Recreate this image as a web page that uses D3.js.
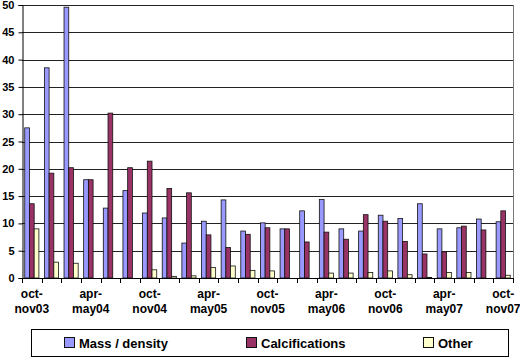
<!DOCTYPE html>
<html>
<head>
<meta charset="utf-8">
<script src="https://cdn.jsdelivr.net/npm/d3@7"></script>
<style>
  body { margin: 0; background: #fff; }
  text { font-family: "Liberation Sans", Arial, sans-serif; font-weight: bold; }
</style>
</head>
<body>
<svg id="chart" width="520" height="360"></svg>
<script>
// bimonthly periods, oct-nov03 .. oct-nov07
const periods = [
    'oct-nov03', 'dec-jan04', 'feb-mar04', 'apr-may04', 'jun-jul04', 'aug-sep04',
    'oct-nov04', 'dec-jan05', 'feb-mar05', 'apr-may05', 'jun-jul05', 'aug-sep05',
    'oct-nov05', 'dec-jan06', 'feb-mar06', 'apr-may06', 'jun-jul06', 'aug-sep06',
    'oct-nov06', 'dec-jan07', 'feb-mar07', 'apr-may07', 'jun-jul07', 'aug-sep07',
    'oct-nov07'
];
const tickLabels = [
    ['oct-', 'nov03'], ['apr-', 'may04'], ['oct-', 'nov04'], ['apr-', 'may05'], ['oct-', 'nov05'],
    ['apr-', 'may06'], ['oct-', 'nov06'], ['apr-', 'may07'], ['oct-', 'nov07']
];
const massDensity = [27.5, 38.5, 49.6, 18.0, 12.8, 16.0, 11.9, 11.0, 6.4, 10.4, 14.3, 8.6, 10.1,
    9.0, 12.3, 14.4, 9.0, 8.6, 11.5, 10.9, 13.6, 9.0, 9.2, 10.8, 10.3];
const calcifications = [13.6, 19.2, 20.2, 18.0, 30.2, 20.2, 21.4, 16.4, 15.6, 7.9, 5.6, 8.0, 9.2,
    9.0, 6.6, 8.4, 7.1, 11.6, 10.4, 6.7, 4.4, 4.8, 9.5, 8.8, 12.3];
const other = [9.0, 2.9, 2.7, 0, 0, 0, 1.5, 0.3, 0.4, 1.9, 2.2, 1.4, 1.3,
    0, 0, 0.9, 0.9, 1.0, 1.3, 0.6, 0.1, 1.0, 1.0, 0, 0.5];
const yTicks = [0, 5, 10, 15, 20, 25, 30, 35, 40, 45, 50];

const series = [
    { name: 'Mass / density', values: massDensity, color: '#9999ff' },
    { name: 'Calcifications', values: calcifications, color: '#993366' },
    { name: 'Other', values: other, color: '#ffffcc' }
];

const margin = { top: 5, right: 7, bottom: 82, left: 22 };
const width = 520, height = 360;
const svg = d3.select('#chart');

const x0 = d3.scaleBand().domain(periods)
    .range([margin.left, width - margin.right])
    .paddingInner(0.28).paddingOuter(0.14);
const x1 = d3.scaleBand().domain(series.map(s => s.name))
    .range([0, x0.bandwidth()]);
const y = d3.scaleLinear().domain([0, 50]).range([height - margin.bottom, margin.top]);

// gridlines
svg.append('g')
    .selectAll('line')
    .data(yTicks.slice(1))
    .join('line')
    .attr('x1', margin.left).attr('x2', width - margin.right)
    .attr('y1', d => Math.round(y(d)) + 0.5).attr('y2', d => Math.round(y(d)) + 0.5)
    .attr('stroke', '#222').attr('stroke-width', 1);

// right border
svg.append('line')
    .attr('x1', width - margin.right + 0.5).attr('x2', width - margin.right + 0.5)
    .attr('y1', margin.top).attr('y2', height - margin.bottom)
    .attr('stroke', '#777');

// bars
series.forEach(s => {
    svg.append('g')
        .selectAll('rect')
        .data(s.values)
        .join('rect')
        .attr('x', (d, i) => x0(periods[i]) + x1(s.name))
        .attr('y', d => y(d))
        .attr('width', x1.bandwidth())
        .attr('height', d => y(0) - y(d))
        .attr('fill', s.color)
        .attr('stroke', '#111')
        .attr('stroke-width', 0.8);
});

// y axis
const yAxis = svg.append('g')
    .attr('transform', `translate(${margin.left + 0.5},0)`)
    .call(d3.axisLeft(y).tickValues(yTicks).tickSize(4).tickPadding(4));
yAxis.select('.domain').attr('stroke', '#000');
yAxis.selectAll('.tick line').attr('stroke', '#000');
yAxis.selectAll('text').style('font-size', '11px').attr('fill', '#000');

// x axis: ticks at group boundaries
const step = x0.step();
const boundaries = periods.map((p, i) => margin.left + i * step).concat([width - margin.right]);
const xAxis = svg.append('g');
xAxis.append('line')
    .attr('x1', margin.left).attr('x2', width - margin.right)
    .attr('y1', y(0) + 0.5).attr('y2', y(0) + 0.5)
    .attr('stroke', '#000');
xAxis.selectAll('.xtick')
    .data(boundaries)
    .join('line')
    .attr('class', 'xtick')
    .attr('x1', d => Math.round(d) + 0.5).attr('x2', d => Math.round(d) + 0.5)
    .attr('y1', y(0)).attr('y2', y(0) + 5)
    .attr('stroke', '#000');

const labelGroups = xAxis.selectAll('.xlabel')
    .data(tickLabels)
    .join('text')
    .attr('class', 'xlabel')
    .attr('text-anchor', 'middle')
    .attr('x', (d, i) => x0(periods[i * 3]) + x0.bandwidth() / 2)
    .attr('y', y(0) + 20)
    .style('font-size', '12px');
labelGroups.selectAll('tspan')
    .data(d => d)
    .join('tspan')
    .attr('x', function () { return d3.select(this.parentNode).attr('x'); })
    .attr('dy', (d, i) => i === 0 ? 0 : 15)
    .text(d => d);

// legend
const legend = svg.append('g');
legend.append('rect')
    .attr('x', 31.5).attr('y', 329.5)
    .attr('width', 477).attr('height', 27)
    .attr('fill', '#fff').attr('stroke', '#000');
const legendX = [64, 246, 423];
series.forEach((s, i) => {
    legend.append('rect')
        .attr('x', legendX[i] + 0.5).attr('y', 337.5)
        .attr('width', 10).attr('height', 10)
        .attr('fill', s.color).attr('stroke', '#111');
    legend.append('text')
        .attr('x', legendX[i] + 15).attr('y', 347.5)
        .style('font-size', '13px')
        .text(s.name);
});
</script>
</body>
</html>
